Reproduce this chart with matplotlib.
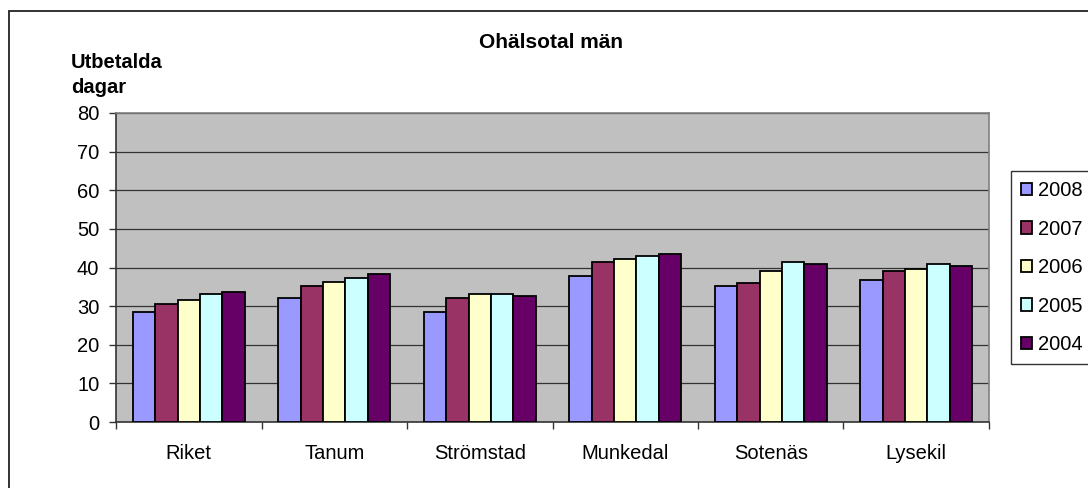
import matplotlib.pyplot as plt
import numpy as np
from matplotlib.patches import Rectangle

plt.rcParams['font.family'] = ['Liberation Sans', 'DejaVu Sans']

kommuner = ['Riket', 'Tanum', 'Strömstad', 'Munkedal', 'Sotenäs', 'Lysekil']
years = ['2008', '2007', '2006', '2005', '2004']
v2008 = [28.6, 32.1, 28.6, 37.9, 35.3, 36.8]
v2007 = [30.6, 35.3, 32.1, 41.5, 35.9, 39.0]
v2006 = [31.6, 36.3, 33.2, 42.1, 39.0, 39.5]
v2005 = [33.2, 37.3, 33.2, 43.1, 41.5, 41.0]
v2004 = [33.7, 38.4, 32.6, 43.6, 41.0, 40.5]
series = [v2008, v2007, v2006, v2005, v2004]
cols = ['#9999FF', '#993366', '#FFFFCC', '#CCFFFF', '#660066']

fig = plt.figure(figsize=(10.88, 4.88), dpi=100)
ax = fig.add_axes([116/1088, 1-422/488, 873/1088, 309/488])
ax.set_facecolor('#C0C0C0')

x = np.arange(len(kommuner))
w = 0.154
for i, vals in enumerate(series):
    ax.bar(x + (i-2)*w, vals, w, color=cols[i], edgecolor='black',
           linewidth=1.3, label=years[i], zorder=3)

ax.set_xlim(-0.5, len(kommuner)-0.5)
ax.set_ylim(0, 80)
ax.set_yticks(range(0, 81, 10))
ax.yaxis.grid(True, color='#333333', linewidth=0.9, zorder=1)
ax.set_axisbelow(True)
ax.set_xticks(x)
ax.set_xticklabels(kommuner)
ax.set_xticks(np.arange(-0.5, len(kommuner), 1), minor=True)
ax.tick_params(axis='x', which='major', length=0, pad=16, labelsize=14.5)
ax.tick_params(axis='x', which='minor', length=5, width=1, color='#333333', direction='out')
ax.tick_params(axis='y', length=5, width=1, color='#333333', labelsize=14.5, pad=7)
for s in ['left', 'bottom']:
    ax.spines[s].set_color('#333333')
    ax.spines[s].set_linewidth(1.2)
for s in ['top', 'right']:
    ax.spines[s].set_color('#808080')
    ax.spines[s].set_linewidth(1.2)

fig.text(551/1088, 1-42/488, 'Ohälsotal män', ha='center', va='center',
         fontsize=15, fontweight='bold')
fig.text(71/1088, 1-53/488, 'Utbetalda\ndagar', ha='left', va='top',
         fontsize=14.5, fontweight='bold', linespacing=1.4)

# outer chart border
fig.patches.append(Rectangle((9/1088, -0.1), 1.2, 1-11/488+0.1,
                             transform=fig.transFigure, fill=False,
                             edgecolor='#222222', linewidth=1.3))

leg = fig.legend(loc='upper left', bbox_to_anchor=(1011/1088, 1-171/488),
                 fontsize=14.5, frameon=True, fancybox=False, edgecolor='black',
                 labelspacing=0.97, handlelength=0.55, handleheight=0.55,
                 handletextpad=0.3, borderpad=0.5, borderaxespad=0)
leg.get_frame().set_linewidth(1.0)

fig.savefig('out.png', dpi=100)
